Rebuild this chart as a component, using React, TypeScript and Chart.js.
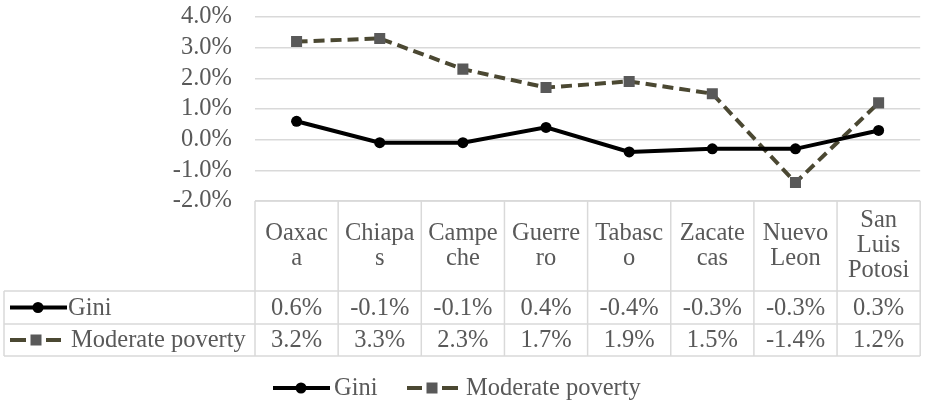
import React, { useEffect, useRef } from "react";
import { Chart, registerables } from "chart.js";

Chart.register(...registerables);

const categories = ["Oaxaca", "Chiapas", "Campeche", "Guerrero", "Tabasco", "Zacatecas", "Nuevo Leon", "San Luis Potosi"];
const headerLines = [["Oaxac", "a"], ["Chiapa", "s"], ["Campe", "che"], ["Guerre", "ro"], ["Tabasc", "o"], ["Zacate", "cas"], ["Nuevo", "Leon"], ["San", "Luis", "Potosi"]];
const giniValues = [0.6, -0.1, -0.1, 0.4, -0.4, -0.3, -0.3, 0.3];
const povertyValues = [3.2, 3.3, 2.3, 1.7, 1.9, 1.5, -1.4, 1.2];
const seriesNames = ["Gini", "Moderate poverty"];
const yMin = -2;
const yMax = 4;
const yStep = 1;

const FONT_FAMILY = '"Liberation Serif", "Times New Roman", serif';
const FONT_SIZE = 24.5;
const TEXT = "#595959";
const GRID = "#d9d9d9";
const GINI_COLOR = "#000000";
const POV_LINE = "#4b4832";
const POV_POINT = "#595959";

function fmt(v: number) {
  return v.toFixed(1) + "%";
}

function drawGiniKey(ctx: CanvasRenderingContext2D, x1: number, x2: number, cx: number, y: number) {
  ctx.save();
  ctx.strokeStyle = GINI_COLOR;
  ctx.lineWidth = 4;
  ctx.setLineDash([]);
  ctx.beginPath();
  ctx.moveTo(x1, y);
  ctx.lineTo(x2, y);
  ctx.stroke();
  ctx.fillStyle = GINI_COLOR;
  ctx.beginPath();
  ctx.arc(cx, y, 5.5, 0, Math.PI * 2);
  ctx.fill();
  ctx.restore();
}

function drawPovKey(ctx: CanvasRenderingContext2D, x1: number, x2: number, cx: number, y: number) {
  ctx.save();
  ctx.strokeStyle = POV_LINE;
  ctx.lineWidth = 4;
  ctx.lineCap = "butt";
  ctx.beginPath();
  ctx.moveTo(x1, y);
  ctx.lineTo(cx - 10, y);
  ctx.moveTo(cx + 10, y);
  ctx.lineTo(x2, y);
  ctx.stroke();
  ctx.fillStyle = POV_POINT;
  ctx.fillRect(cx - 5.5, y - 5.5, 11, 11);
  ctx.restore();
}

const tablePlugin = {
  id: "dataTable",
  afterDraw(chart: any) {
    const ctx: CanvasRenderingContext2D = chart.ctx;
    const xs = chart.scales.x;
    const area = chart.chartArea;
    const n = categories.length;
    const colW = xs.width / n;
    const right = area.right;
    const top = area.bottom;
    const headerBottom = top + 90;
    const row1Bottom = headerBottom + 33;
    const row2Bottom = row1Bottom + 32;
    const tableLeft = 4;

    ctx.save();
    ctx.strokeStyle = GRID;
    ctx.lineWidth = 1.5;
    const line = (a: number, b: number, c: number, d: number) => {
      ctx.beginPath();
      ctx.moveTo(a, b);
      ctx.lineTo(c, d);
      ctx.stroke();
    };
    line(area.left, top, right, top);
    line(tableLeft, headerBottom, right, headerBottom);
    line(tableLeft, row1Bottom, right, row1Bottom);
    line(tableLeft, row2Bottom, right, row2Bottom);
    line(tableLeft, headerBottom, tableLeft, row2Bottom);
    for (let i = 0; i <= n; i++) {
      const xb = i < n ? xs.getPixelForValue(i) - colW / 2 : xs.getPixelForValue(n - 1) + colW / 2;
      line(xb, top, xb, row2Bottom);
    }

    ctx.fillStyle = TEXT;
    ctx.font = `${FONT_SIZE}px ${FONT_FAMILY}`;
    ctx.textAlign = "center";
    ctx.textBaseline = "middle";
    const lh = 25;
    const hc = (top + headerBottom) / 2;
    for (let i = 0; i < n; i++) {
      const cx = xs.getPixelForValue(i);
      const lines = headerLines[i];
      const y0 = hc - ((lines.length - 1) * lh) / 2;
      lines.forEach((t, k) => ctx.fillText(t, cx, y0 + k * lh));
      ctx.fillText(fmt(giniValues[i]), cx, (headerBottom + row1Bottom) / 2 + 1);
      ctx.fillText(fmt(povertyValues[i]), cx, (row1Bottom + row2Bottom) / 2 + 1);
    }

    const r1 = (headerBottom + row1Bottom) / 2;
    const r2 = (row1Bottom + row2Bottom) / 2;
    drawGiniKey(ctx, 10, 67, 38, r1);
    drawPovKey(ctx, 10, 61, 36, r2);
    ctx.fillStyle = TEXT;
    ctx.textAlign = "left";
    ctx.fillText(seriesNames[0], 68, r1 + 1);
    ctx.fillText(seriesNames[1], 71, r2 + 1);

    const ly = 388;
    drawGiniKey(ctx, 273, 330, 301, ly);
    drawPovKey(ctx, 407, 458, 432, ly);
    ctx.fillStyle = TEXT;
    ctx.fillText(seriesNames[0], 334, ly + 1);
    ctx.fillText(seriesNames[1], 466, ly + 1);
    ctx.restore();
  },
};

export default function App() {
  const ref = useRef<HTMLCanvasElement | null>(null);
  useEffect(() => {
    document.body.style.margin = "0";
    const canvas = ref.current;
    if (!canvas) return;
    const chart = new Chart(canvas, {
      type: "line",
      data: {
        labels: categories,
        datasets: [
          {
            label: seriesNames[0],
            data: giniValues,
            borderColor: GINI_COLOR,
            backgroundColor: GINI_COLOR,
            borderWidth: 4,
            pointStyle: "circle",
            pointRadius: 5.5,
            pointBackgroundColor: GINI_COLOR,
            pointBorderColor: GINI_COLOR,
            pointBorderWidth: 0,
            tension: 0,
          },
          {
            label: seriesNames[1],
            data: povertyValues,
            borderColor: POV_LINE,
            backgroundColor: POV_POINT,
            borderWidth: 4,
            borderDash: [11, 6],
            pointStyle: "rect",
            pointRadius: 7.8,
            pointBackgroundColor: POV_POINT,
            pointBorderColor: POV_POINT,
            pointBorderWidth: 0,
            tension: 0,
          },
        ],
      },
      options: {
        animation: false,
        responsive: false,
        devicePixelRatio: 1,
        layout: { padding: { top: 17, right: 7, left: 0, bottom: 0 } },
        plugins: { legend: { display: false }, tooltip: { enabled: false } },
        scales: {
          x: {
            offset: true,
            grid: { display: false },
            border: { display: false },
            ticks: { display: false },
            afterFit: (s: any) => {
              s.height = 207;
              s.paddingLeft = 0;
              s.paddingRight = 0;
            },
          },
          y: {
            min: yMin,
            max: yMax,
            grid: { color: GRID, lineWidth: 1.5, drawTicks: false },
            border: { display: false },
            ticks: {
              stepSize: yStep,
              autoSkip: false,
              padding: 23,
              color: TEXT,
              font: { family: FONT_FAMILY, size: FONT_SIZE },
              callback: (v: any) => fmt(Number(v)),
            },
            afterFit: (s: any) => {
              s.width = 255;
              s.paddingTop = 0;
              s.paddingBottom = 0;
            },
          },
        },
      },
      plugins: [tablePlugin],
    });
    return () => chart.destroy();
  }, []);
  return (
    <div style={{ width: 928, height: 408 }}>
      <canvas ref={ref} width={928} height={408} style={{ display: "block" }} />
    </div>
  );
}
